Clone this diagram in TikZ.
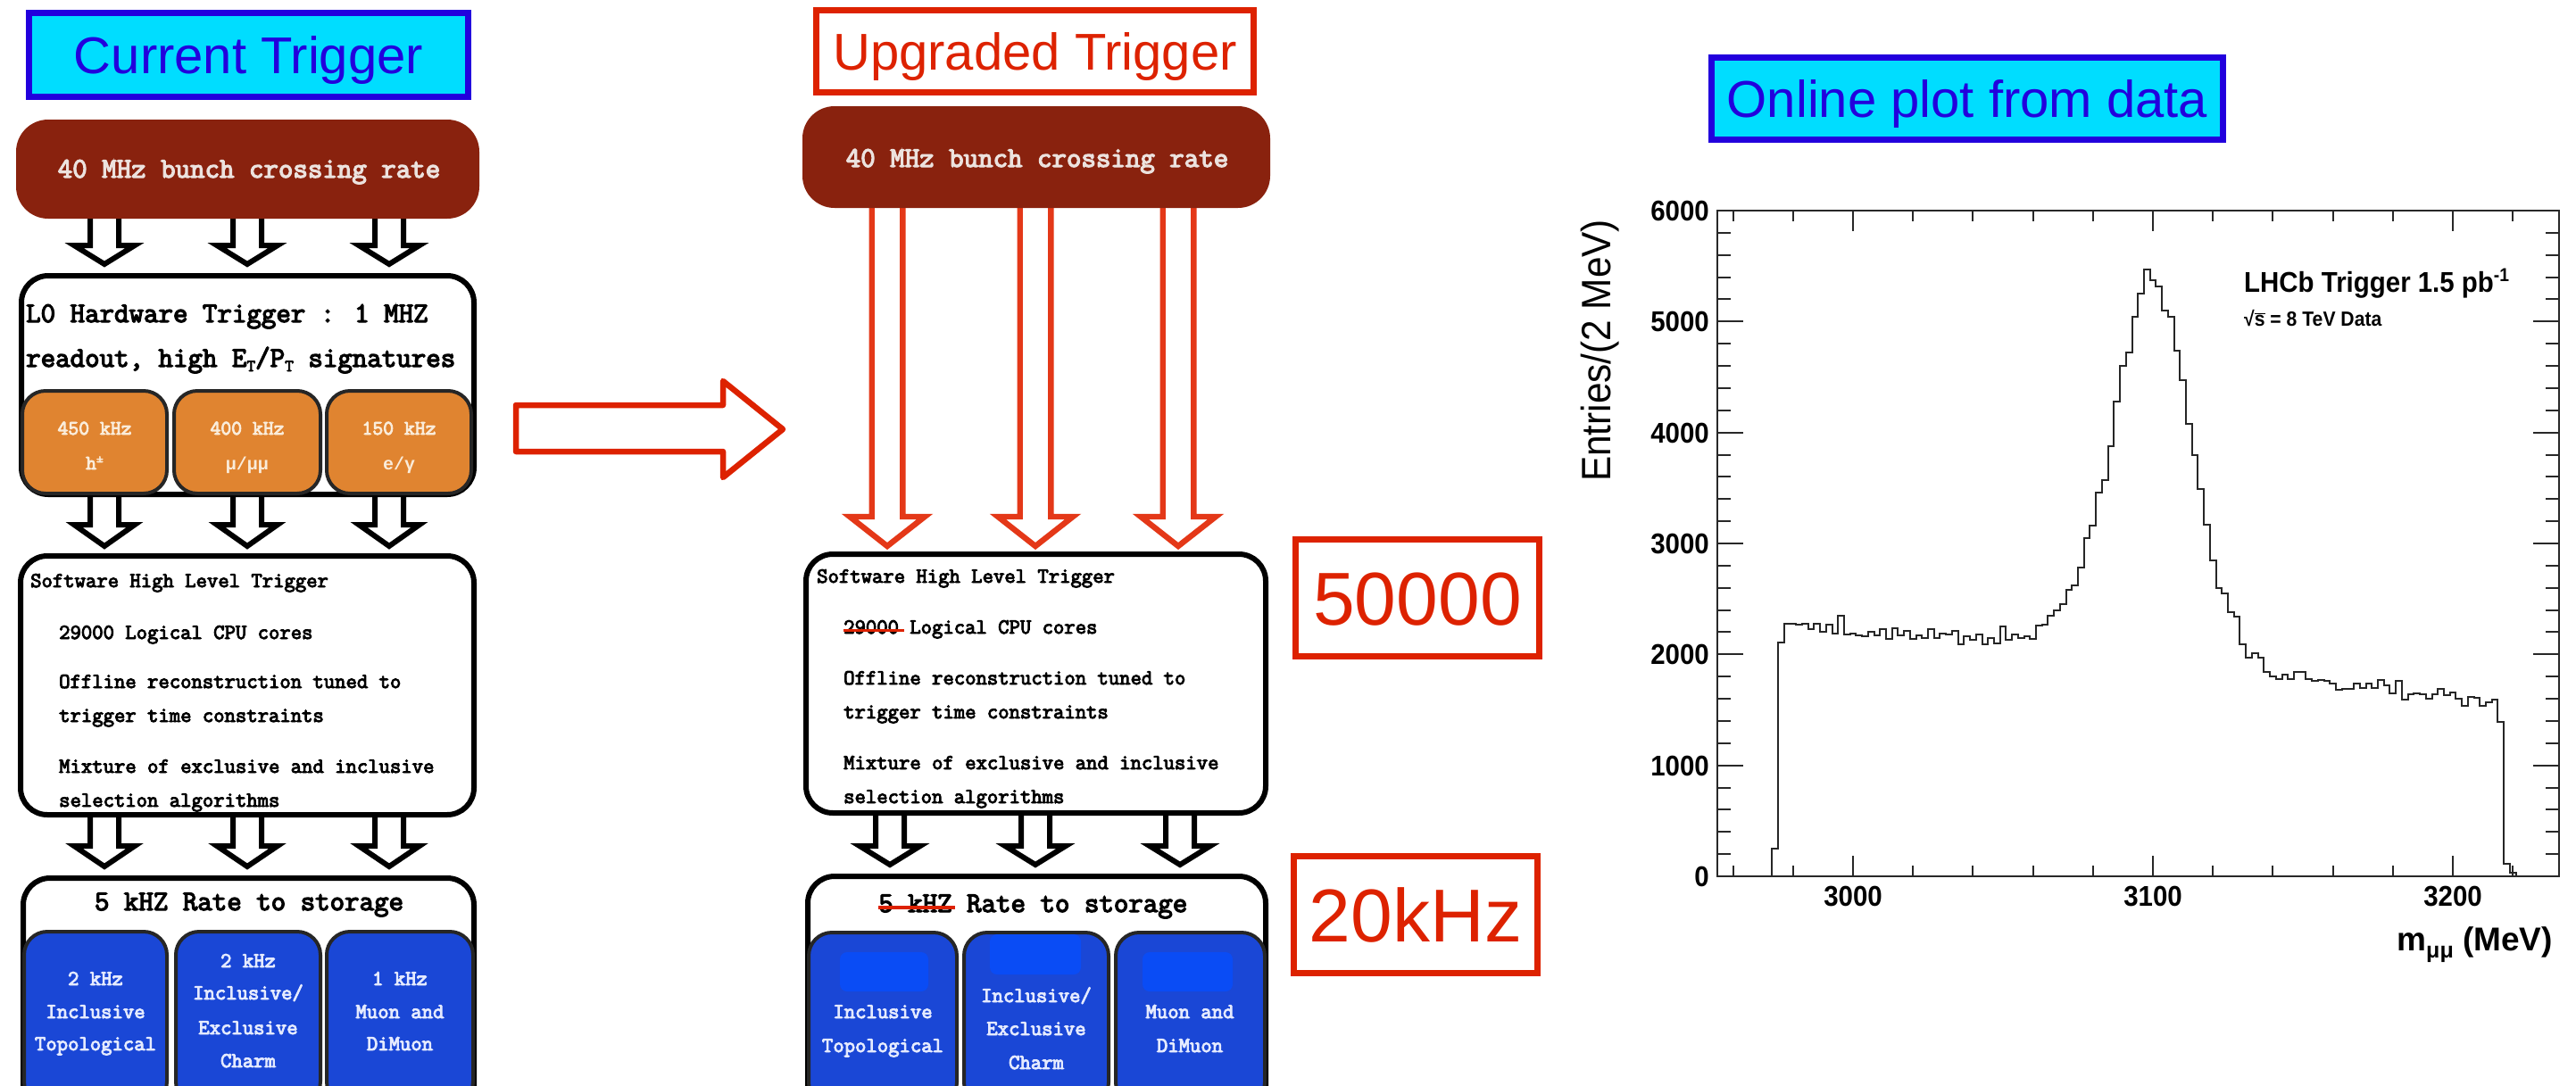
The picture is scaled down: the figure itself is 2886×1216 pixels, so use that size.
\documentclass[tikz,border=0pt]{standalone}
\usepackage{fontspec}
\setmainfont{Liberation Sans}
\newfontfamily\arialf{Liberation Sans}
\newfontfamily\rootf[FakeStretch=0.92]{Liberation Sans}
\newfontfamily\courf[FakeBold=4]{Latin Modern Mono}
\newfontfamily\grkf{Liberation Mono}
\definecolor{cyanfill}{RGB}{0,221,255}
\definecolor{tblue}{RGB}{34,0,221}
\definecolor{tred}{RGB}{221,34,0}
\definecolor{brownbox}{RGB}{137,34,14}
\definecolor{orangebox}{RGB}{224,132,48}
\definecolor{bluebox}{RGB}{26,71,214}
\definecolor{brightblue}{RGB}{10,76,245}
\definecolor{arrred}{RGB}{228,56,24}
\definecolor{axisgray}{RGB}{40,40,40}
\definecolor{browntext}{RGB}{236,226,222}
\definecolor{orangetext}{RGB}{250,236,218}
\definecolor{bluetext}{RGB}{228,234,255}
\newcommand{\hollowarrow}[7]{%
  \draw[#7] ({#1-#5},#2) -- ({#1+#5},#2) -- ({#1+#5},#3) -- ({#1+#6},#3) -- (#1,#4) -- ({#1-#6},#3) -- ({#1-#5},#3) -- cycle;}
\tikzset{
  titlebox/.style={draw=#1, text=#1, line width=7pt, inner sep=0pt, text height=42pt, text depth=0pt, font=\arialf\fontsize{58}{58}\selectfont},
  brownnode/.style={fill=brownbox, rounded corners=36pt, inner sep=0pt},
  whitebox/.style={draw=black, fill=white, line width=6pt, rounded corners=30pt, inner sep=0pt},
  subbox/.style={draw=black!85, fill=#1, line width=4pt, rounded corners=26pt, inner sep=0pt},
  mono/.style={font={\courf\fontsize{#1}{#1}\selectfont}, inner sep=0pt},
  blackarrow/.style={draw=black, fill=white, line width=6pt, line join=miter},
  redarrow/.style={draw=arrred, fill=white, line width=6.4pt, line join=miter},
  redbox/.style={draw=tred, line width=7pt, inner sep=0pt, text=tred, minimum width=273pt, minimum height=131pt, text height=61pt, text depth=0pt, font=\arialf\fontsize{84}{84}\selectfont},
  strike/.style={draw=tred, line width=3.5pt},
  axisline/.style={draw=axisgray, line width=2pt},
  histline/.style={draw=black!85, line width=2pt, line join=miter},
  ticklab/.style={font=\rootf\bfseries\fontsize{32}{32}\selectfont, inner sep=0pt},
  cover/.style={fill=brightblue, rounded corners=8pt, inner sep=0pt},
}
\begin{document}
\begin{tikzpicture}[x=1pt,y=-1pt]
\useasboundingbox[fill=white] (0,0) rectangle (2886,1216);

% ================= LEFT COLUMN =================
\node[titlebox=tblue, fill=cyanfill, minimum width=492pt, minimum height=94pt] (curtitle) at (278.5,61.5) {Current Trigger};

\foreach \cx in {117,277,436} {
  \hollowarrow{\cx}{240}{275}{296}{16}{34}{blackarrow}
  \hollowarrow{\cx}{550}{588}{612}{16}{34}{blackarrow}
  \hollowarrow{\cx}{910}{948}{971}{16}{34}{blackarrow}
}

\node[brownnode, minimum width=519pt, minimum height=111pt] (lbrown) at (277.5,189.5) {};
\node[mono=32, text=browntext, anchor=base] (lbrownt) at (279,199) {40 MHz bunch crossing rate};

\node[whitebox, minimum width=507pt, minimum height=245pt] (l0) at (277.5,431.5) {};
\node[mono=32, anchor=base west] (l0a) at (29,361) {L0 Hardware Trigger : 1 MHZ};
\node[mono=32, anchor=base west] (l0b) at (29,411) {readout, high E\raisebox{-5pt}{\fontsize{19}{19}\selectfont T}/P\raisebox{-5pt}{\fontsize{19}{19}\selectfont T} signatures};

\node[subbox=orangebox, minimum width=162pt, minimum height=115pt] (or1) at (106,495.5) {};
\node[subbox=orangebox, minimum width=164pt, minimum height=115pt] (or2) at (277,495.5) {};
\node[subbox=orangebox, minimum width=162pt, minimum height=115pt] (or3) at (447,495.5) {};
\node[mono=23, text=orangetext, anchor=base] (or1a) at (106,487) {450 kHz};
\node[mono=23, text=orangetext, anchor=base] (or1b) at (106,526) {h\raisebox{8pt}{\fontsize{15}{15}\selectfont ±}};
\node[mono=23, text=orangetext, anchor=base] (or2a) at (277,487) {400 kHz};
\node[text=orangetext, anchor=base, inner sep=0pt, font={\grkf\bfseries\fontsize{20}{20}\selectfont}] (or2b) at (277,526) {μ/μμ};
\node[mono=23, text=orangetext, anchor=base] (or3a) at (447,487) {150 kHz};
\node[text=orangetext, anchor=base, inner sep=0pt, font={\grkf\bfseries\fontsize{20}{20}\selectfont}] (or3b) at (447,526) {e/γ};

\node[whitebox, minimum width=508pt, minimum height=290pt] (lhlt) at (277,768) {};
\node[mono=24, anchor=base west] (lh1) at (34,658) {Software High Level Trigger};
\node[mono=24, anchor=base west] (lh2) at (66,716) {29000 Logical CPU cores};
\node[mono=24, anchor=base west] (lh3) at (66,771) {Offline reconstruction tuned to};
\node[mono=24, anchor=base west] (lh4) at (66,809) {trigger time constraints};
\node[mono=24, anchor=base west] (lh5) at (66,866) {Mixture of exclusive and inclusive};
\node[mono=24, anchor=base west] (lh6) at (66,904) {selection algorithms};

\node[whitebox, minimum width=505pt, minimum height=263pt] (lrate) at (278.5,1115.5) {};
\node[mono=32, anchor=base] (lratet) at (279,1020) {5 kHZ Rate to storage};
\node[subbox=bluebox, minimum width=160pt, minimum height=194pt] (lb1) at (107,1141) {};
\node[subbox=bluebox, minimum width=162pt, minimum height=194pt] (lb2) at (278,1141) {};
\node[subbox=bluebox, minimum width=164pt, minimum height=194pt] (lb3) at (448,1141) {};
\node[mono=24, text=bluetext, anchor=base] (lb1a) at (107,1104) {2 kHz};
\node[mono=24, text=bluetext, anchor=base] (lb1b) at (107,1141) {Inclusive};
\node[mono=24, text=bluetext, anchor=base] (lb1c) at (107,1177) {Topological};
\node[mono=24, text=bluetext, anchor=base] (lb2a) at (278,1084) {2 kHz};
\node[mono=24, text=bluetext, anchor=base] (lb2b) at (278,1120) {Inclusive/};
\node[mono=24, text=bluetext, anchor=base] (lb2c) at (278,1159) {Exclusive};
\node[mono=24, text=bluetext, anchor=base] (lb2d) at (278,1196) {Charm};
\node[mono=24, text=bluetext, anchor=base] (lb3a) at (448,1104) {1 kHz};
\node[mono=24, text=bluetext, anchor=base] (lb3b) at (448,1141) {Muon and};
\node[mono=24, text=bluetext, anchor=base] (lb3c) at (448,1177) {DiMuon};

% ================= BIG ARROW =================
\draw[draw=tred, fill=white, line width=6.5pt, line join=round] (578,454) -- (810,454) -- (810,427) -- (877,481) -- (810,535) -- (810,506) -- (578,506) -- cycle;

% ================= MIDDLE COLUMN =================
\node[titlebox=tred, fill=white, minimum width=490pt, minimum height=92pt] (uptitle) at (1159.5,57.5) {Upgraded Trigger};

\foreach \cx in {997,1160,1322} {
  \hollowarrow{\cx}{910}{948}{969}{16}{34}{blackarrow}
}

\node[whitebox, minimum width=515pt, minimum height=290pt] (mhlt) at (1160.5,766) {};
\node[mono=24, anchor=base west] (mh1) at (915,653) {Software High Level Trigger};
\node[mono=24, anchor=base west] (mh2) at (945,710) {29000 Logical CPU cores};
\node[mono=24, anchor=base west] (mh3) at (945,767) {Offline reconstruction tuned to};
\node[mono=24, anchor=base west] (mh4) at (945,805) {trigger time constraints};
\node[mono=24, anchor=base west] (mh5) at (945,862) {Mixture of exclusive and inclusive};
\node[mono=24, anchor=base west] (mh6) at (945,900) {selection algorithms};
\draw[strike] ([yshift=-1pt]mh2.west) -- ([xshift=68pt,yshift=-1pt]mh2.west);

\foreach \cx in {994,1160,1320} {
  \hollowarrow{\cx}{225}{579}{612}{17.3}{42}{redarrow}
}

\node[brownnode, minimum width=524pt, minimum height=114pt] (mbrown) at (1161,176) {};
\node[mono=32, text=browntext, anchor=base] (mbrownt) at (1162,187) {40 MHz bunch crossing rate};

\node[whitebox, minimum width=513pt, minimum height=265pt] (mrate) at (1161.5,1114.5) {};
\node[mono=32, anchor=base west] (mratet) at (984,1022) {5 kHZ Rate to storage};
\draw[strike] ([yshift=-1pt]mratet.west) -- ([xshift=86pt,yshift=-1pt]mratet.west);
\node[subbox=bluebox, minimum width=166pt, minimum height=194pt] (mb1) at (989,1142) {};
\node[subbox=bluebox, minimum width=162pt, minimum height=194pt] (mb2) at (1161,1142) {};
\node[subbox=bluebox, minimum width=167pt, minimum height=194pt] (mb3) at (1333.5,1142) {};
\node[cover, minimum width=99pt, minimum height=44pt] (mc1) at (990.5,1089) {};
\node[cover, minimum width=102pt, minimum height=45pt] (mc2) at (1160,1069.5) {};
\node[cover, minimum width=101pt, minimum height=44pt] (mc3) at (1330.5,1089) {};
\node[mono=24, text=bluetext, anchor=base] (mb1b) at (989,1141) {Inclusive};
\node[mono=24, text=bluetext, anchor=base] (mb1c) at (989,1179) {Topological};
\node[mono=24, text=bluetext, anchor=base] (mb2b) at (1161,1123) {Inclusive/};
\node[mono=24, text=bluetext, anchor=base] (mb2c) at (1161,1160) {Exclusive};
\node[mono=24, text=bluetext, anchor=base] (mb2d) at (1161,1198) {Charm};
\node[mono=24, text=bluetext, anchor=base] (mb3b) at (1333,1141) {Muon and};
\node[mono=24, text=bluetext, anchor=base] (mb3c) at (1333,1179) {DiMuon};

\node[redbox] (cpu) at (1588,670) {50000};
\node[redbox] (khz) at (1586,1025) {20kHz};

% ================= PLOT =================
\node[titlebox=tblue, fill=cyanfill, minimum width=573pt, minimum height=92pt] (onl) at (2204,110.5) {Online plot from data};

\draw[histline] ({2076+(2973-3000)*3.36},982)
  \foreach \v [count=\i] in {250,2110,
    2280,2280,2270,2280,2230,2280,2200,2270,2190,2350,
    2180,2190,2170,2160,2200,2170,2230,2140,2240,2170,
    2210,2140,2170,2150,2230,2150,2190,2180,2210,2090,
    2160,2130,2180,2090,2150,2100,2250,2130,2180,2150,
    2160,2140,
    2260,2270,2350,2400,2450,2580,2620,2780,3050,3160,
    3460,3570,3880,4280,4600,4720,5040,5250,5470,5370,
    5320,5100,5040,4740,4470,4080,3800,3490,3170,2850,
    2600,2550,2380,
    2340,2090,1970,2010,1970,1840,1800,1780,1820,1780,
    1840,1840,1780,1760,1770,1760,1740,1680,1690,1690,
    1740,1700,1740,1700,1770,1720,1650,1760,1590,1640,
    1650,1640,1600,1640,1690,1630,1660,1600,1540,1620,
    1610,1540,1570,1590,1390,
    110,30}
  { -- ({2076+(2971+2*\i-3000)*3.36},{982-\v*0.12433}) -- ({2076+(2973+2*\i-3000)*3.36},{982-\v*0.12433}) }
  -- ({2076+(3221-3000)*3.36},982);

\draw[axisline] (1924,236) rectangle (2867,982);
\foreach \v in {0,200,...,6000} {
  \pgfmathsetmacro\yy{982-\v*0.12433}
  \pgfmathsetmacro\tl{ifthenelse(mod(\v,1000)==0,29,15)}
  \draw[axisline] (1924,\yy) -- ++(\tl,0);
  \draw[axisline] (2867,\yy) -- ++(-\tl,0);
}
\foreach \m in {2960,2980,...,3220} {
  \pgfmathsetmacro\xx{2076+(\m-3000)*3.36}
  \pgfmathsetmacro\tl{ifthenelse(mod(\m,100)==0,23,12)}
  \draw[axisline] (\xx,982) -- ++(0,-\tl);
  \draw[axisline] (\xx,236) -- ++(0,\tl);
}
\foreach \v in {0,1000,...,6000} {
  \node[ticklab, anchor=base east] (yl\v) at (1915,{982-\v*0.12433+11.5}) {\v};
}
\foreach \m in {3000,3100,3200} {
  \node[ticklab, anchor=base] (xl\m) at ({2076+(\m-3000)*3.36},1015) {\m};
}
\node[font=\rootf\fontsize{46}{46}\selectfont, rotate=90, inner sep=0pt] (ylab) at (1793,393) {Entries/(2 MeV)};
\node[font=\arialf\bfseries\fontsize{37}{37}\selectfont, anchor=base east, inner sep=0pt] (xlab) at (2860,1065) {m\raisebox{-8pt}{\fontsize{25}{25}\selectfont μμ} (MeV)};
\node[font=\rootf\bfseries\fontsize{32}{32}\selectfont, anchor=base west, inner sep=0pt] (lhcb) at (2514,327) {LHCb Trigger 1.5 pb\raisebox{12pt}{\fontsize{21}{21}\selectfont -1}};
\node[font=\rootf\bfseries\fontsize{23}{23}\selectfont, anchor=base west, inner sep=0pt] (sqs) at (2514,365) {√$\overline{\mbox{s}}$ = 8 TeV Data};
\end{tikzpicture}
\end{document}
